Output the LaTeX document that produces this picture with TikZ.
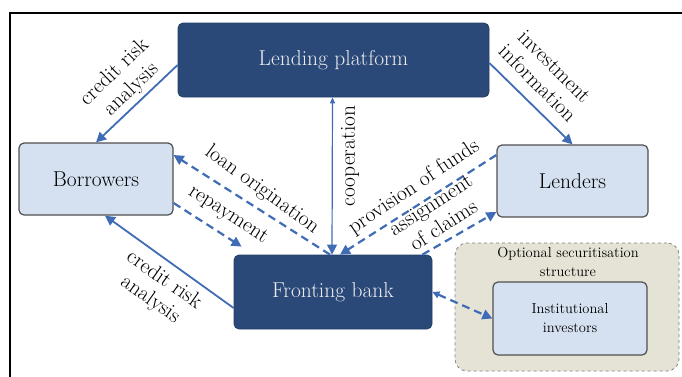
\documentclass[tikz,border=0pt]{standalone}
\usepackage{fontspec}
\usetikzlibrary{arrows.meta,calc}
\definecolor{navy}{RGB}{42,73,121}
\definecolor{lightbox}{RGB}{213,224,241}
\definecolor{beige}{RGB}{229,227,213}
\definecolor{arrowblue}{RGB}{63,108,180}
\definecolor{boxtext}{RGB}{236,236,236}
\definecolor{boxborder}{RGB}{80,80,80}
\begin{document}
\begin{tikzpicture}[x=1pt,y=-1pt,
  bigfont/.style={font=\fontsize{21.5}{24}\selectfont},
  smallfont/.style={font=\fontsize{14.5}{19}\selectfont},
  darkbox/.style={draw=navy!85!black, line width=0.8pt, fill=navy, rounded corners=5pt, text=boxtext, bigfont},
  lightnode/.style={draw=boxborder, line width=1.2pt, fill=lightbox, rounded corners=5pt, bigfont},
  lbl/.style={bigfont, align=center, inner sep=0pt},
  solidarrow/.style={draw=arrowblue, line width=1.8pt, -{Triangle[length=10pt,width=10pt]}},
  thinarrow/.style={draw=arrowblue, line width=1.2pt, {Triangle[length=6pt,width=5pt]}-{Triangle[length=10pt,width=10pt]}},
  dasharrow/.style={draw=arrowblue, line width=2.2pt, dash pattern=on 8pt off 5pt, -{Triangle[length=10pt,width=10pt]}},
]
\useasboundingbox (0,0) rectangle (682,376);
% frame
\draw[line width=1.8pt] (10,380) -- (10,13) -- (690,13);

% optional securitisation structure
\node[draw=gray, dashed, line width=0.8pt, fill=beige, rounded corners=12pt,
      minimum width=224pt, minimum height=128pt] (opt) at (567,307) {};
\node[smallfont, align=center, inner sep=0pt] (optlbl) at (568,261.5) {Optional securitisation\\structure};
\node[lightnode, smallfont, align=center, minimum width=154pt, minimum height=73pt] (inv) at (570,318.5) {Institutional\\investors};

% main boxes
\node[darkbox, minimum width=311pt, minimum height=74pt] (lp) at (333.5,60) {Lending platform};
\node[lightnode, minimum width=154pt, minimum height=72pt] (bor) at (96,179) {Borrowers};
\node[lightnode, minimum width=151pt, minimum height=72pt] (len) at (572.5,181) {Lenders};
\node[darkbox, minimum width=198pt, minimum height=74pt] (fb) at (333,292) {Fronting bank};

% connectors
\draw[solidarrow] ([yshift=-5pt]lp.west) -- (bor.north);
\draw[solidarrow] ([yshift=-3pt]lp.east) -- (len.north);
\draw[thinarrow] ([xshift=-1pt]lp.south) -- ([xshift=-1pt]fb.north);
\draw[dasharrow] ([xshift=-3pt]fb.north) -- ([yshift=24pt]bor.east);
\draw[dasharrow] ([yshift=-24pt]bor.east) -- ([shift={(8pt,8pt)}]fb.north west);
\draw[dasharrow] ([yshift=26pt]len.west) -- ([xshift=7pt]fb.north);
\draw[dasharrow] ([xshift=-10pt]fb.north east) -- ([yshift=-31pt]len.west);
\draw[solidarrow] ([yshift=-16pt]fb.west) -- ([xshift=9pt]bor.south);
\draw[dasharrow, {Triangle[length=7pt,width=7pt]}-{Triangle[length=10pt,width=10pt]}] (fb.east) -- (inv.west);

% labels
\node[lbl, rotate=44] (l1) at (123,81) {credit risk\\analysis};
\node[lbl, rotate=-45] (l2) at (546,75) {investment\\information};
\node[lbl, rotate=90] (l3) at (350,156) {cooperation};
\node[lbl, rotate=-36] (l4) at (262,190) {loan origination};
\node[lbl, rotate=-33] (l5) at (228,215) {repayment};
\node[lbl, rotate=34] (l6) at (414,187) {provision of funds};
\node[lbl, rotate=33] (l7) at (437,215) {assignment\\of claims};
\node[lbl, rotate=-35] (l8) at (157,290) {credit risk\\analysis};
\end{tikzpicture}
\end{document}
